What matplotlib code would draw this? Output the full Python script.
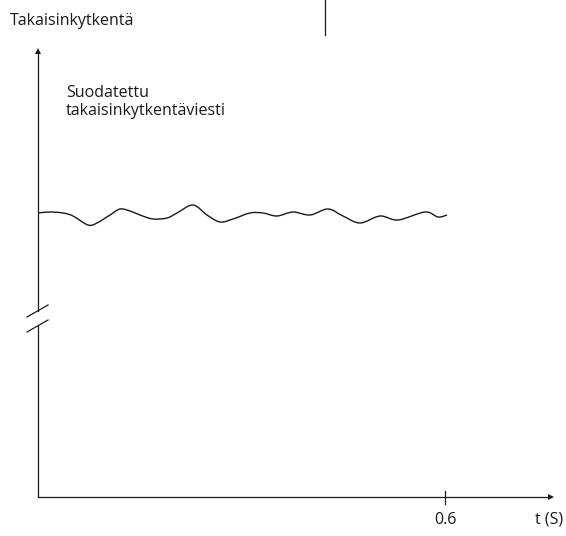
import matplotlib
matplotlib.use("Agg")
import matplotlib.pyplot as plt
from matplotlib.lines import Line2D
from matplotlib.path import Path
from matplotlib.patches import PathPatch

# Data: filtered feedback signal (time in s, feedback in arbitrary units)
t_values = [0.0, 0.0177, 0.0369, 0.0516, 0.0737, 0.0870, 0.1061, 0.1209, 0.1356, 0.1504,
            0.1695, 0.1902, 0.2049, 0.2285, 0.2491, 0.2683, 0.2875, 0.3125, 0.3317, 0.3523,
            0.3759, 0.4010, 0.4275, 0.4496, 0.4747, 0.5042, 0.5307, 0.5705, 0.5897, 0.6030]
feedback = [284, 285, 284, 281, 272, 274, 282, 288, 286, 282,
            278, 279, 284, 292, 282, 275, 278, 284, 284, 281,
            285, 282, 288, 281, 274, 281, 277, 285, 280, 282]
x_tick = 0.6
x_tick_label = "0.6"
x_label = "t (S)"
y_label = "Takaisinkytkentä"
series_label = "Suodatettu\ntakaisinkytkentäviesti"

W, H = 566, 536
PX_PER_S = 678.33
Y0 = 497
fig = plt.figure(figsize=(W / 100, H / 100), dpi=100)
ax = fig.add_axes([0, 0, 1, 1])
ax.set_xlim(-38 / PX_PER_S, (W - 38) / PX_PER_S)
ax.set_ylim(-(H - Y0), Y0)
ax.axis("off")

def tx(px):
    return (px - 38) / PX_PER_S

def ty(py):
    return Y0 - py

col = "#1a1a1a"
lw = 0.9
fam = ["Open Sans", "DejaVu Sans"]

# Wave drawn as a smooth Bezier path through the data points
pts = list(zip(t_values, feedback))
verts = [pts[0]]
codes = [Path.MOVETO]
n = len(pts)
for i in range(n - 1):
    p0 = pts[i - 1] if i > 0 else pts[i]
    p1 = pts[i]
    p2 = pts[i + 1]
    p3 = pts[i + 2] if i + 2 < n else pts[i + 1]
    c1 = (p1[0] + (p2[0] - p0[0]) / 6, p1[1] + (p2[1] - p0[1]) / 6)
    c2 = (p2[0] - (p3[0] - p1[0]) / 6, p2[1] - (p3[1] - p1[1]) / 6)
    verts += [c1, c2, p2]
    codes += [Path.CURVE4] * 3
ax.add_patch(PathPatch(Path(verts, codes), facecolor="none", edgecolor=col, lw=1.0))

# x axis
ax.plot([0, tx(550)], [0, 0], color=col, lw=lw)
ax.plot([tx(551)], [0], marker=">", color=col, markersize=4, markeredgewidth=0)
# y axis with break
ax.plot([0, 0], [0, ty(326)], color=col, lw=lw)
ax.plot([0, 0], [ty(311), ty(52)], color=col, lw=lw)
ax.plot([0], [ty(51)], marker="^", color=col, markersize=4, markeredgewidth=0)
# break marks
ax.plot([tx(27), tx(48)], [ty(317), ty(305)], color=col, lw=lw)
ax.plot([tx(27), tx(48)], [ty(332), ty(320)], color=col, lw=lw)
# tick at 0.6
ax.plot([x_tick, x_tick], [ty(491), ty(504)], color=col, lw=lw)

# texts
fs = 11.5
ax.text(x_tick, ty(520), x_tick_label, ha="center", va="center", fontsize=fs, family=fam, color=col)
ax.text(tx(549), ty(520), x_label, ha="center", va="center", fontsize=fs, family=fam, color=col)
ax.text(tx(10), ty(21), y_label, ha="left", va="center", fontsize=fs, family=fam, color=col)
ax.text(tx(66), ty(102), series_label, ha="left", va="center", fontsize=fs, family=fam,
        color=col, linespacing=1.15)

# top decoration line
fig.add_artist(Line2D([325 / W, 325 / W], [1, 1 - 35 / H], transform=fig.transFigure,
                      color=col, lw=lw))

fig.savefig("out.png", dpi=100)
